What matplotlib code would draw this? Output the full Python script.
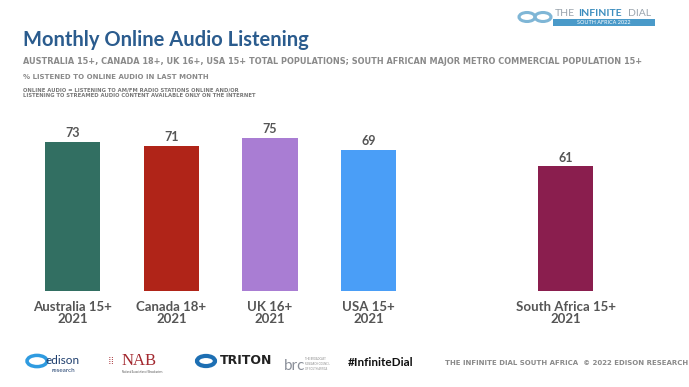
import numpy as np
import matplotlib.pyplot as plt
from matplotlib.patches import Rectangle, Circle

# data
labels = ["Australia 15+\n2021", "Canada 18+\n2021", "UK 16+\n2021", "USA 15+\n2021", "South Africa 15+\n2021"]
positions = [0, 1, 2, 3, 5]
values = [73, 71, 75, 69, 61]
colors = ["#326F62", "#B02418", "#A97DD3", "#4A9EF7", "#8A1E4E"]

plt.rcParams['font.family'] = ['Lato', 'DejaVu Sans']

fig = plt.figure(figsize=(6.89, 3.87), dpi=100)
W, H = 689, 387


def fx(px):
    return px / W


def fy(py):
    return 1 - py / H


ax = fig.add_axes([0.0054, 0.248, 0.916, 0.528])
ax.bar(positions, values, width=0.56, color=colors)
for x, v in zip(positions, values):
    ax.annotate(str(v), (x, v), xytext=(0, 2), textcoords='offset points',
                ha='center', va='bottom', fontsize=9, fontweight='bold', color='#555555')
ax.set_xlim(-0.7, 5.7)
ax.set_ylim(0, 100)
ax.set_xticks(positions)
ax.set_xticklabels(labels, fontsize=9.5, fontweight='bold', color='#555555', linespacing=1.05)
ax.tick_params(axis='x', length=0, pad=7)
ax.set_yticks([])
for s in ax.spines.values():
    s.set_visible(False)

# header
fig.text(fx(23), fy(40), "Monthly Online Audio Listening", fontsize=14.5, fontweight='bold',
         color='#2B5C8E', va='center', ha='left')
fig.text(fx(23), fy(62), "AUSTRALIA 15+, CANADA 18+, UK 16+, USA 15+ TOTAL POPULATIONS; SOUTH AFRICAN MAJOR METRO COMMERCIAL POPULATION 15+",
         fontsize=5.85, fontweight='bold', color='#8a8a8a', va='center', ha='left', family='DejaVu Sans')
fig.text(fx(23), fy(77), "% LISTENED TO ONLINE AUDIO IN LAST MONTH",
         fontsize=5.0, fontweight='bold', color='#8a8a8a', va='center', ha='left', family='DejaVu Sans')
fig.text(fx(23), fy(92.5), "ONLINE AUDIO = LISTENING TO AM/FM RADIO STATIONS ONLINE AND/OR\nLISTENING TO STREAMED AUDIO CONTENT AVAILABLE ONLY ON THE INTERNET",
         fontsize=3.8, fontweight='bold', color='#777777', va='center', ha='left', family='DejaVu Sans',
         linespacing=1.2)

# top-right logo
for cx in (527, 543):
    fig.patches.append(Circle((fx(cx), fy(17)), 8 / W, transform=fig.transFigure, fill=False,
                              edgecolor='#7fb6d6', lw=2.2))
fig.text(fx(555), fy(13.5), "THE", fontsize=7.5, color='#9aa4ad', va='center', ha='left')
fig.text(fx(578), fy(13.5), "INFINITE", fontsize=7.5, color='#3d8ebf', fontweight='bold', va='center', ha='left')
fig.text(fx(628), fy(13.5), "DIAL", fontsize=7.5, color='#9aa4ad', va='center', ha='left')
fig.patches.append(Rectangle((fx(553), fy(26)), 102 / W, 7 / H, transform=fig.transFigure,
                             facecolor='#4a9ac9', edgecolor='none'))
fig.text(fx(604), fy(22.5), "SOUTH AFRICA 2022", fontsize=4, color='white', va='center', ha='center')

# footer logos
fig.patches.append(Circle((fx(37), fy(361)), 10 / W, transform=fig.transFigure, fill=False,
                          edgecolor='#2f9be0', lw=2.5))
fig.text(fx(45), fy(360), "edison", fontsize=8.5, color='#1f3f6e', va='center', ha='left')
fig.text(fx(52), fy(371), "research", fontsize=4.5, color='#1f3f6e', va='center', ha='left')
fig.text(fx(122), fy(361), "NAB", fontsize=12, color='#a3282f', va='center', ha='left', family='Liberation Serif')
fig.text(fx(122), fy(372), "National Association of Broadcasters", fontsize=1.8, color='#555555', va='center', ha='left')
fig.text(fx(108), fy(361), "⁞⁞", fontsize=8, color='#a3282f', va='center', ha='left', family='DejaVu Sans')
fig.patches.append(Circle((fx(206), fy(361)), 9 / W, transform=fig.transFigure, fill=False,
                          edgecolor='#1d6fb3', lw=3))
fig.text(fx(220), fy(361), "TRITON", fontsize=9, color='#222222', fontweight='bold', va='center', ha='left',
         family='Liberation Sans Narrow')
fig.text(fx(284), fy(366), "brc", fontsize=11, color='#8a8f99', va='center', ha='left')
fig.text(fx(305), fy(364), "THE BROADCAST\nRESEARCH COUNCIL\nOF SOUTH AFRICA", fontsize=1.8, color='#888888',
         va='center', ha='left', linespacing=1.2)
fig.text(fx(348), fy(363), "#InfiniteDial", fontsize=8.5, color='#111111', fontweight='bold', va='center', ha='left')
fig.text(fx(445), fy(363), "THE INFINITE DIAL SOUTH AFRICA  © 2022 EDISON RESEARCH", fontsize=5.0,
         color='#8a8a8a', fontweight='bold', va='center', ha='left', family='DejaVu Sans')

fig.savefig("out.png", dpi=100)
